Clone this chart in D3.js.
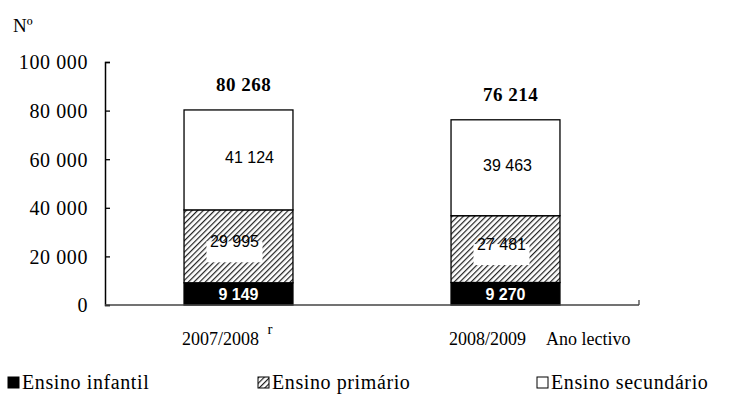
<!DOCTYPE html>
<html lang="pt">
<head>
<meta charset="UTF-8">
<title>Alunos por ano lectivo</title>
<script src="https://cdn.jsdelivr.net/npm/d3@7"></script>
<style>
    body { margin: 0; background: #fff; }
    svg { display: block; }
</style>
</head>
<body>
<div id="chart"></div>
<script>
// data
var years = ["2007/2008", "2008/2009"];
var series = ["Ensino infantil", "Ensino primário", "Ensino secundário"];
var infantil = [9149, 9270];
var primario = [29995, 27481];
var secundario = [41124, 39463];
var totals = [80268, 76214];
var yTicks = [0, 20000, 40000, 60000, 80000, 100000];

var W = 742, H = 412;
var SERIF = "'Liberation Serif', 'Times New Roman', Times, serif";
var SANS = "'Liberation Sans', Arial, Helvetica, sans-serif";

var svg = d3.select("#chart").append("svg")
    .attr("width", W)
    .attr("height", H);

// hatch pattern for primario
var defs = svg.append("defs");
var pat = defs.append("pattern")
    .attr("id", "hatch")
    .attr("patternUnits", "userSpaceOnUse")
    .attr("width", 4)
    .attr("height", 4)
    .attr("patternTransform", "rotate(45)");
pat.append("rect").attr("width", 4).attr("height", 4).attr("fill", "#fff");
pat.append("line")
    .attr("x1", 0).attr("y1", 0).attr("x2", 0).attr("y2", 4)
    .attr("stroke", "#222").attr("stroke-width", 2.4);

var fills = ["#000", "url(#hatch)", "#fff"];

var x = d3.scaleBand().domain(years).range([105, 639])
    .paddingInner(0.592).paddingOuter(0.296);
var y = d3.scaleLinear().domain([0, 100000]).range([305, 62]);

var fmt = function (v) { return d3.format(",")(v).replace(/,/g, " "); };

// stack the three series
var rows = years.map(function (yr, i) {
    return { year: yr, infantil: infantil[i], primario: primario[i], secundario: secundario[i] };
});
var stack = d3.stack().keys(["infantil", "primario", "secundario"])(rows);

// bars
var layers = svg.selectAll("g.layer")
    .data(stack)
    .enter().append("g")
    .attr("class", "layer")
    .attr("fill", function (d, i) { return fills[i]; });

layers.selectAll("rect")
    .data(function (d) { return d; })
    .enter().append("rect")
    .attr("x", function (d) { return x(d.data.year); })
    .attr("y", function (d) { return y(d[1]); })
    .attr("width", x.bandwidth())
    .attr("height", function (d) { return y(d[0]) - y(d[1]); })
    .attr("stroke", "#000")
    .attr("stroke-width", 1.3);

// y axis
var yAxis = svg.append("g")
    .attr("transform", "translate(105,0)")
    .call(d3.axisLeft(y).tickValues(yTicks).tickSize(-5).tickPadding(17).tickFormat(fmt));
yAxis.attr("font-family", null).attr("font-size", null);
yAxis.select(".domain").attr("stroke", "#000").attr("stroke-width", 1.5);
yAxis.selectAll(".tick line").attr("stroke", "#000").attr("stroke-width", 1.3);
yAxis.selectAll(".tick text")
    .style("font-family", SERIF)
    .style("font-size", "20px")
    .style("letter-spacing", "0.6px")
    .attr("dy", "0.34em")
    .attr("fill", "#000");

// x axis
svg.append("line")
    .attr("x1", 105).attr("x2", 639)
    .attr("y1", y(0)).attr("y2", y(0))
    .attr("stroke", "#444").attr("stroke-width", 1.3);
svg.append("line")
    .attr("x1", 639).attr("x2", 639)
    .attr("y1", y(0)).attr("y2", y(0) - 5)
    .attr("stroke", "#444").attr("stroke-width", 1.3);

svg.selectAll("text.xlab")
    .data(years)
    .enter().append("text")
    .attr("class", "xlab")
    .attr("x", function (d) { return x(d) + x.bandwidth() / 2 - 18; })
    .attr("y", 345)
    .attr("text-anchor", "middle")
    .style("font-family", SERIF)
    .style("font-size", "18px")
    .text(function (d) { return d; });

// superscript r on the first year
svg.append("text")
    .attr("x", x(years[0]) + x.bandwidth() / 2 + 29)
    .attr("y", 334)
    .style("font-family", SERIF)
    .style("font-size", "15px")
    .text("r");

svg.append("text")
    .attr("x", 546)
    .attr("y", 345)
    .style("font-family", SERIF)
    .style("font-size", "18px")
    .text("Ano lectivo");

svg.append("text")
    .attr("x", 13)
    .attr("y", 32)
    .style("font-family", SERIF)
    .style("font-size", "19px")
    .text("Nº");

// totals
svg.selectAll("text.total")
    .data(totals)
    .enter().append("text")
    .attr("class", "total")
    .attr("x", function (d, i) { return x(years[i]) + x.bandwidth() / 2 + 5; })
    .attr("y", function (d) { return y(d) - 19; })
    .attr("text-anchor", "middle")
    .style("font-family", SERIF)
    .style("font-size", "19px")
    .style("font-weight", "bold")
    .style("letter-spacing", "0.5px")
    .text(fmt);

// segment labels
var cx = function (i) { return x(years[i]) + x.bandwidth() / 2; };

// secundario
svg.selectAll("text.sec")
    .data(secundario)
    .enter().append("text")
    .attr("class", "sec")
    .attr("x", function (d, i) { return cx(i) + (i === 0 ? 11 : 2); })
    .attr("y", function (d, i) { return (y(stack[2][i][0]) + y(stack[2][i][1])) / 2 + 3; })
    .attr("text-anchor", "middle")
    .style("font-family", SANS)
    .style("font-size", "16px")
    .text(fmt);

// primario, with the white box sitting a bit low
var prim = svg.selectAll("g.prim")
    .data(primario)
    .enter().append("g")
    .attr("class", "prim")
    .attr("transform", function (d, i) {
        var my = (y(stack[1][i][0]) + y(stack[1][i][1])) / 2;
        return "translate(" + (cx(i) - 4) + "," + my + ")";
    });
prim.append("rect")
    .attr("x", -28).attr("y", -5)
    .attr("width", 56).attr("height", 21)
    .attr("fill", "#fff");
prim.append("text")
    .attr("text-anchor", "middle")
    .attr("y", 1)
    .style("font-family", SANS)
    .style("font-size", "16px")
    .text(fmt);

// infantil
svg.selectAll("text.inf")
    .data(infantil)
    .enter().append("text")
    .attr("class", "inf")
    .attr("x", function (d, i) { return cx(i); })
    .attr("y", function (d, i) { return (y(stack[0][i][0]) + y(stack[0][i][1])) / 2 + 6; })
    .attr("text-anchor", "middle")
    .attr("fill", "#fff")
    .style("font-family", SANS)
    .style("font-size", "16px")
    .style("font-weight", "bold")
    .text(fmt);

// legend
var legX = [8, 258, 537];
var leg = svg.selectAll("g.leg")
    .data(series)
    .enter().append("g")
    .attr("class", "leg")
    .attr("transform", function (d, i) { return "translate(" + legX[i] + ",377)"; });
leg.append("rect")
    .attr("width", 11).attr("height", 11)
    .attr("fill", function (d, i) { return fills[i]; })
    .attr("stroke", "#000")
    .attr("stroke-width", 1);
leg.append("text")
    .attr("x", 14)
    .attr("y", 12)
    .style("font-family", SERIF)
    .style("font-size", "20px")
    .style("letter-spacing", "0.6px")
    .text(function (d) { return d; });
</script>
</body>
</html>
